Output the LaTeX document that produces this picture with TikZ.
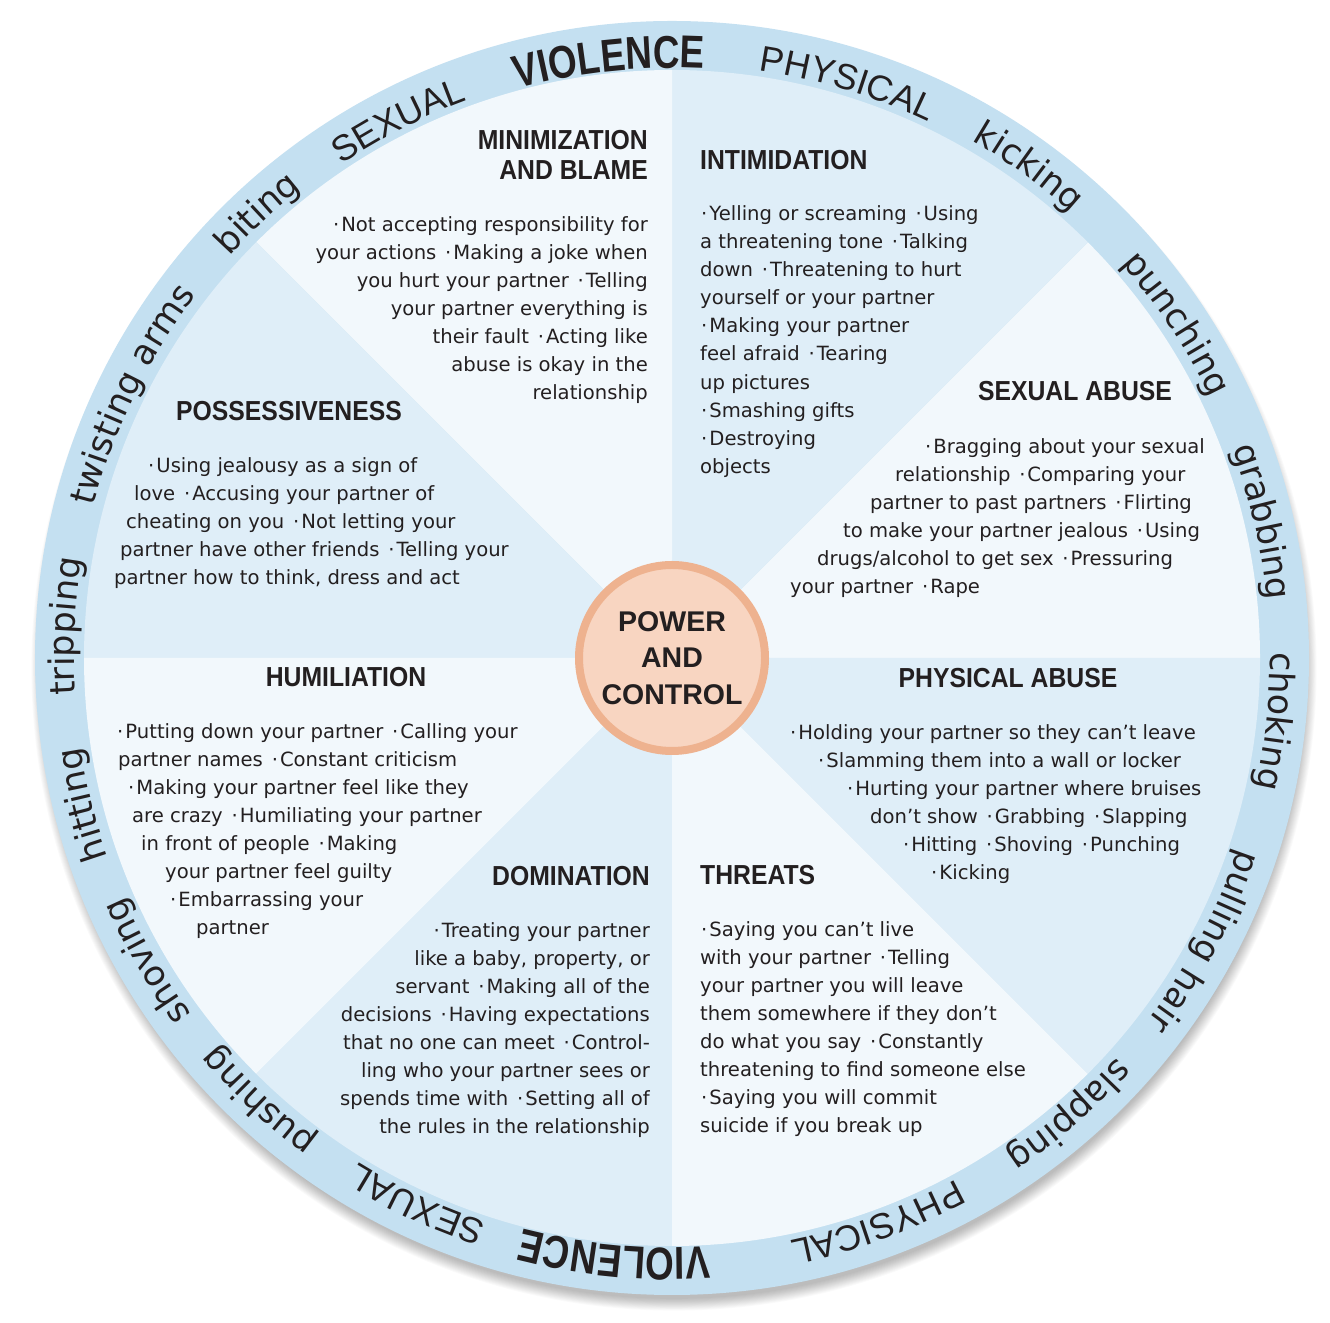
\documentclass[tikz,border=0pt]{standalone}
\usepackage{fontspec}
\setmainfont{DejaVu Sans}
\newfontfamily\bodyfont{DejaVu Sans}
\newfontfamily\headfont[FakeStretch=0.9]{Liberation Sans}
\newfontfamily\capfont{Liberation Sans}
\newfontfamily\violfont[FakeStretch=0.8]{Liberation Sans}
\newfontfamily\handfont{DejaVu Sans}
\usetikzlibrary{decorations.text}
\definecolor{ringblue}{HTML}{C4E0F1}
\definecolor{lightA}{HTML}{F2F8FC}
\definecolor{lightB}{HTML}{DFEEF8}
\definecolor{peach}{HTML}{F8D5C1}
\definecolor{peachedge}{HTML}{EEB28F}
\definecolor{ink}{HTML}{231F20}
\newcommand\mybul{\textperiodcentered\kern2pt}
\newcommand\mysep{\hspace{0.45em}\textperiodcentered\kern2pt}
\newcommand\handsz{\color{ink}\handfont\fontsize{35}{35}\selectfont}
\newcommand\capsz{\color{ink}\capfont\fontsize{36}{36}\selectfont}
\newcommand\violsz{\color{ink}\violfont\bfseries\fontsize{46}{46}\selectfont}
\newcommand\ringword[4]{%
  \path[decorate,decoration={text along path,text={|#3|#4},text align=center}]
    ([shift={(672,664)}]#1+40:#2) arc[start angle=#1+40,end angle=#1-40,radius=#2];}
\newcommand\bline[5]{\node[body,anchor=#2] (#1) at (#3,1322-#4) {#5};}
\tikzset{
  body/.style={inner sep=0pt,font=\bodyfont\fontsize{19.6}{28}\selectfont,text=ink},
  head/.style={inner sep=0pt,font=\headfont\bfseries\fontsize{27.5}{30}\selectfont,text=ink},
  wedgeA/.style={fill=lightA},
  wedgeB/.style={fill=lightB},
}
\begin{document}
\begin{tikzpicture}[x=1pt,y=1pt]
\useasboundingbox (0,0) rectangle (1330,1322);
\fill[white] (0,0) rectangle (1330,1322);
% shadow
\foreach \i in {1,...,14}
  \fill[black,opacity=0.018] (674,654) circle[radius=630+\i*0.9];
% ring
\fill[ringblue] (672,664) circle[radius=637];
% wedges
\foreach \a/\s in {0/wedgeA,45/wedgeB,90/wedgeA,135/wedgeB,180/wedgeA,225/wedgeB,270/wedgeA,315/wedgeB}
  \path[\s] (672,664) -- ++(\a:588) arc[start angle=\a,end angle=\a+45,radius=588] -- cycle;
% ring words
\ringword{96}{590}{\violsz}{VIOLENCE}
\ringword{73}{594}{\capsz}{PHYSICAL}
\ringword{54}{598}{\handsz}{kicking}
\ringword{33.5}{598}{\handsz}{punching}
\ringword{13}{598}{\handsz}{grabbing}
\ringword{-6}{598}{\handsz}{choking}
\ringword{-28}{598}{\handsz}{pulling hair}
\ringword{-49}{598}{\handsz}{slapping}
\ringword{-70}{594}{\capsz}{PHYSICAL}
\ringword{-95.5}{590}{\violsz}{VIOLENCE}
\ringword{-115}{594}{\capsz}{SEXUAL}
\ringword{-133}{598}{\handsz}{pushing}
\ringword{-150}{598}{\handsz}{shoving}
\ringword{-166}{598}{\handsz}{hitting}
\ringword{177}{598}{\handsz}{tripping}
\ringword{154}{598}{\handsz}{twisting arms}
\ringword{133}{598}{\handsz}{biting}
\ringword{117}{594}{\capsz}{SEXUAL}
% centre
\node[circle,fill=peach,draw=peachedge,line width=8pt,minimum size=186pt,inner sep=0pt,
      align=center,text=ink,font=\capfont\bfseries\fontsize{28.5}{36.5}\selectfont] (pc) at (672,664) {POWER\\AND\\CONTROL};
% MINIMIZATION AND BLAME
\node[head,anchor=base east] (minh1) at (648,1322-150) {MINIMIZATION};
\node[head,anchor=base east] (minh2) at (648,1322-180) {AND BLAME};
\bline{min1}{base east}{648}{232}{\mybul Not accepting responsibility for}
\bline{min2}{base east}{648}{260}{your actions\mysep Making a joke when}
\bline{min3}{base east}{648}{288}{you hurt your partner\mysep Telling}
\bline{min4}{base east}{648}{316}{your partner everything is}
\bline{min5}{base east}{648}{344}{their fault\mysep Acting like}
\bline{min6}{base east}{648}{372}{abuse is okay in the}
\bline{min7}{base east}{648}{400}{relationship}
% INTIMIDATION
\node[head,anchor=base west] (intH) at (700,1322-170) {INTIMIDATION};
\bline{int1}{base west}{701}{221}{\mybul Yelling or screaming\mysep Using}
\bline{int2}{base west}{700}{249}{a threatening tone\mysep Talking}
\bline{int3}{base west}{700}{277}{down\mysep Threatening to hurt}
\bline{int4}{base west}{700}{305}{yourself or your partner}
\bline{int5}{base west}{701}{333}{\mybul Making your partner}
\bline{int6}{base west}{700}{361}{feel afraid\mysep Tearing}
\bline{int7}{base west}{700}{390}{up pictures}
\bline{int8}{base west}{701}{418}{\mybul Smashing gifts}
\bline{int9}{base west}{701}{446}{\mybul Destroying}
\bline{int10}{base west}{700}{474}{objects}
% POSSESSIVENESS
\node[head,anchor=base] (posH) at (289,1322-421) {POSSESSIVENESS};
\bline{pos1}{base west}{148}{473}{\mybul Using jealousy as a sign of}
\bline{pos2}{base west}{134}{501}{love\mysep Accusing your partner of}
\bline{pos3}{base west}{126}{529}{cheating on you\mysep Not letting your}
\bline{pos4}{base west}{120}{557}{partner have other friends\mysep Telling your}
\bline{pos5}{base west}{114}{585}{partner how to think, dress and act}
% SEXUAL ABUSE
\node[head,anchor=base] (sexH) at (1075,1322-401) {SEXUAL ABUSE};
\bline{sex1}{base west}{925}{454}{\mybul Bragging about your sexual}
\bline{sex2}{base west}{895}{482}{relationship\mysep Comparing your}
\bline{sex3}{base west}{870}{510}{partner to past partners\mysep Flirting}
\bline{sex4}{base west}{843}{538}{to make your partner jealous\mysep Using}
\bline{sex5}{base west}{817}{566}{drugs/alcohol to get sex\mysep Pressuring}
\bline{sex6}{base west}{790}{594}{your partner\mysep Rape}
% HUMILIATION
\node[head,anchor=base] (humH) at (346,1322-687) {HUMILIATION};
\bline{hum1}{base west}{117}{739}{\mybul Putting down your partner\mysep Calling your}
\bline{hum2}{base west}{118}{767}{partner names\mysep Constant criticism}
\bline{hum3}{base west}{128}{795}{\mybul Making your partner feel like they}
\bline{hum4}{base west}{132}{823}{are crazy\mysep Humiliating your partner}
\bline{hum5}{base west}{141}{851}{in front of people\mysep Making}
\bline{hum6}{base west}{165}{879}{your partner feel guilty}
\bline{hum7}{base west}{170}{907}{\mybul Embarrassing your}
\bline{hum8}{base west}{196}{935}{partner}
% PHYSICAL ABUSE
\node[head,anchor=base] (phyH) at (1008,1322-688) {PHYSICAL ABUSE};
\bline{phy1}{base west}{790}{740}{\mybul Holding your partner so they can’t leave}
\bline{phy2}{base west}{818}{768}{\mybul Slamming them into a wall or locker}
\bline{phy3}{base west}{847}{796}{\mybul Hurting your partner where bruises}
\bline{phy4}{base west}{870}{824}{don’t show\mysep Grabbing\mysep Slapping}
\bline{phy5}{base west}{903}{852}{\mybul Hitting\mysep Shoving\mysep Punching}
\bline{phy6}{base west}{931}{880}{\mybul Kicking}
% DOMINATION
\node[head,anchor=base east] (domH) at (650,1322-886) {DOMINATION};
\bline{dom1}{base east}{650}{938}{\mybul Treating your partner}
\bline{dom2}{base east}{650}{966}{like a baby, property, or}
\bline{dom3}{base east}{650}{994}{servant\mysep Making all of the}
\bline{dom4}{base east}{650}{1022}{decisions\mysep Having expectations}
\bline{dom5}{base east}{650}{1050}{that no one can meet\mysep Control-}
\bline{dom6}{base east}{650}{1078}{ling who your partner sees or}
\bline{dom7}{base east}{650}{1106}{spends time with\mysep Setting all of}
\bline{dom8}{base east}{650}{1134}{the rules in the relationship}
% THREATS
\node[head,anchor=base west] (thrH) at (700,1322-885) {THREATS};
\bline{thr1}{base west}{701}{937}{\mybul Saying you can’t live}
\bline{thr2}{base west}{700}{965}{with your partner\mysep Telling}
\bline{thr3}{base west}{700}{993}{your partner you will leave}
\bline{thr4}{base west}{700}{1021}{them somewhere if they don’t}
\bline{thr5}{base west}{700}{1049}{do what you say\mysep Constantly}
\bline{thr6}{base west}{700}{1077}{threatening to find someone else}
\bline{thr7}{base west}{701}{1105}{\mybul Saying you will commit}
\bline{thr8}{base west}{700}{1133}{suicide if you break up}
\end{tikzpicture}
\end{document}
